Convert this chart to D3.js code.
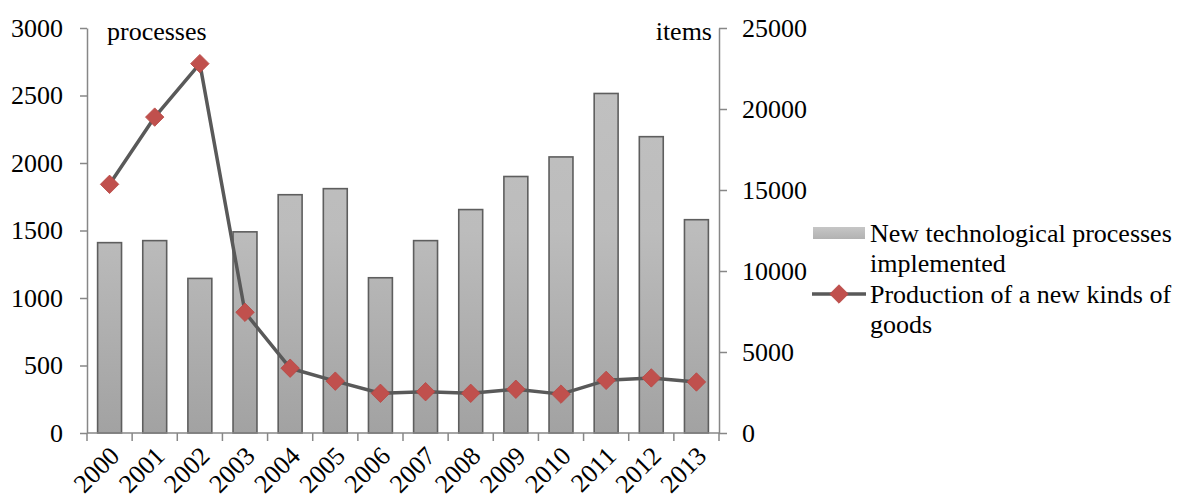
<!DOCTYPE html>
<html>
<head>
<meta charset="utf-8">
<script src="https://cdn.jsdelivr.net/npm/d3@7"></script>
</head>
<body style="margin:0; background:#fff">
<svg id="chart" width="1182" height="503" style="display:block"></svg>
<script>
// Years on the category axis
const years = ["2000","2001","2002","2003","2004","2005","2006","2007","2008","2009","2010","2011","2012","2013"];
// New technological processes implemented (left axis, processes)
const processes = [1410, 1425, 1145, 1490, 1765, 1810, 1150, 1425, 1655, 1900, 2045, 2515, 2195, 1580];
// Production of new kinds of goods (right axis, items)
const goods = [15350, 19500, 22800, 7450, 4000, 3200, 2450, 2550, 2450, 2700, 2400, 3250, 3400, 3150];
// Axis ticks
const leftTicks = [0, 500, 1000, 1500, 2000, 2500, 3000];
const rightTicks = [0, 5000, 10000, 15000, 20000, 25000];
// Legend entries
const legendBars = ["New technological processes", "implemented"];
const legendLine = ["Production of a new kinds of", "goods"];

const serif = "Liberation Serif";
const svg = d3.select("#chart");
const plotLeft = 87, plotRight = 719, plotTop = 28, plotBottom = 433;
const axisColor = "#878787";
const fontSize = 26;

const x = d3.scaleBand().domain(years).range([plotLeft, plotRight]).paddingInner(0.47).paddingOuter(0.235);
const yL = d3.scaleLinear().domain([0, 3000]).range([plotBottom, plotTop]);
const yR = d3.scaleLinear().domain([0, 25000]).range([plotBottom, plotTop]);

const defs = svg.append("defs");
const grad = defs.append("linearGradient").attr("id", "barGrad")
  .attr("gradientUnits", "userSpaceOnUse")
  .attr("x1", 0).attr("x2", 0).attr("y1", plotTop).attr("y2", plotBottom);
grad.append("stop").attr("offset", 0).attr("stop-color", "#c2c2c2");
grad.append("stop").attr("offset", 0.5).attr("stop-color", "#bcbcbc");
grad.append("stop").attr("offset", 1).attr("stop-color", "#a2a2a2");

const legGrad = defs.append("linearGradient").attr("id", "legGrad")
  .attr("x1", 0).attr("x2", 0).attr("y1", 0).attr("y2", 1);
legGrad.append("stop").attr("offset", 0).attr("stop-color", "#c6c6c6");
legGrad.append("stop").attr("offset", 1).attr("stop-color", "#b2b2b2");

// Bars
svg.append("g").selectAll("rect").data(years).join("rect")
  .attr("x", d => x(d))
  .attr("y", (d, i) => yL(processes[i]))
  .attr("width", x.bandwidth())
  .attr("height", (d, i) => plotBottom - yL(processes[i]))
  .attr("fill", "url(#barGrad)")
  .attr("stroke", "#5e5e5e")
  .attr("stroke-width", 1.6);

// Category axis with ticks at category boundaries
const xAxis = svg.append("g");
xAxis.append("line").attr("x1", plotLeft).attr("x2", plotRight).attr("y1", plotBottom).attr("y2", plotBottom)
  .attr("stroke", axisColor).attr("stroke-width", 1.5);
xAxis.selectAll("line.tick").data(d3.range(years.length + 1)).join("line")
  .attr("class", "tick")
  .attr("x1", i => plotLeft + i * x.step()).attr("x2", i => plotLeft + i * x.step())
  .attr("y1", plotBottom).attr("y2", plotBottom + 8)
  .attr("stroke", axisColor).attr("stroke-width", 1.5);
xAxis.selectAll("text").data(years).join("text")
  .attr("transform", d => `translate(${x(d) + x.bandwidth() / 2 + 5},${plotBottom + 18}) rotate(-45)`)
  .attr("text-anchor", "end")
  .attr("dy", "0.35em")
  .attr("fill", "#000")
  .text(d => d);

// Left axis
const gL = svg.append("g").attr("transform", `translate(${plotLeft},0)`)
  .call(d3.axisLeft(yL).tickValues(leftTicks).tickSize(7).tickSizeOuter(0).tickPadding(17).tickFormat(d3.format("d")));
gL.select(".domain").attr("stroke", axisColor).attr("stroke-width", 1.5);
gL.selectAll(".tick line").attr("stroke", axisColor).attr("stroke-width", 1.5);
gL.selectAll(".tick text").attr("fill", "#000");

// Right axis
const gR = svg.append("g").attr("transform", `translate(${plotRight},0)`)
  .call(d3.axisRight(yR).tickValues(rightTicks).tickSize(8).tickSizeOuter(0).tickPadding(15).tickFormat(d3.format("d")));
gR.select(".domain").attr("stroke", axisColor).attr("stroke-width", 1.5);
gR.selectAll(".tick line").attr("stroke", axisColor).attr("stroke-width", 1.5);
gR.selectAll(".tick text").attr("fill", "#000");

// Axis unit labels
svg.append("text").attr("x", 107).attr("y", 40).text("processes");
svg.append("text").attr("x", 712).attr("y", 40).attr("text-anchor", "end").text("items");

// Line series with diamond markers
const cx = d => x(d) + x.bandwidth() / 2;
const line = d3.line().x((d, i) => cx(years[i])).y(d => yR(d));
svg.append("path").datum(goods)
  .attr("d", line)
  .attr("fill", "none")
  .attr("stroke", "#595959")
  .attr("stroke-width", 3.5)
  .attr("stroke-linejoin", "round");

const diamond = d3.symbol().type(d3.symbolSquare).size(170);
svg.append("g").selectAll("path").data(goods).join("path")
  .attr("d", diamond)
  .attr("transform", (d, i) => `translate(${cx(years[i])},${yR(d)}) rotate(45)`)
  .attr("fill", "#c0504d")
  .attr("stroke", "#b84845")
  .attr("stroke-width", 0.8);

// Legend
const leg = svg.append("g");
leg.append("rect").attr("x", 813).attr("y", 227).attr("width", 52).attr("height", 12).attr("fill", "url(#legGrad)");
leg.selectAll("text.bars").data(legendBars).join("text")
  .attr("class", "bars")
  .attr("x", 870).attr("y", (d, i) => 242 + i * 30)
  .text(d => d);
leg.append("line").attr("x1", 812).attr("x2", 866).attr("y1", 294).attr("y2", 294)
  .attr("stroke", "#595959").attr("stroke-width", 3.5);
leg.append("path").attr("d", diamond)
  .attr("transform", "translate(839,294) rotate(45)")
  .attr("fill", "#c0504d").attr("stroke", "#b84845").attr("stroke-width", 0.8);
leg.selectAll("text.line").data(legendLine).join("text")
  .attr("class", "line")
  .attr("x", 870).attr("y", (d, i) => 303 + i * 30)
  .text(d => d);

// Serif typeface for every label, set inline so it wins over axis defaults
svg.selectAll("text")
  .style("font-family", serif)
  .style("font-size", fontSize + "px");
</script>
</body>
</html>
